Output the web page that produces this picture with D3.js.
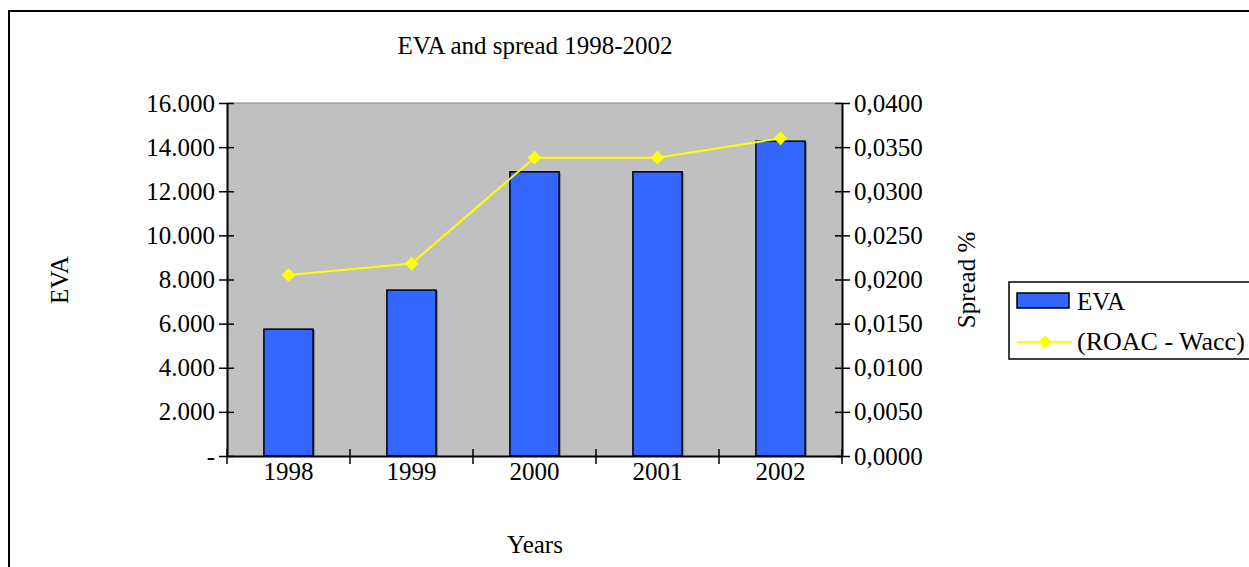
<!DOCTYPE html>
<html>
<head>
<meta charset="utf-8">
<script src="https://d3js.org/d3.v7.min.js"></script>
<style>
  body { margin: 0; background: #fff; }
  svg text { font-family: "Liberation Serif", "Times New Roman", serif !important; fill: #000; }
</style>
</head>
<body>
<svg id="chart" width="1249" height="567"></svg>
<script>
// data
var years = ["1998", "1999", "2000", "2001", "2002"];
var evaValues = [5750, 7520, 12880, 12880, 14270];
var spreadValues = [0.0205, 0.0218, 0.0338, 0.0338, 0.0360];
var leftTicks = [0, 2000, 4000, 6000, 8000, 10000, 12000, 14000, 16000];
var leftTickLabels = ["-", "2.000", "4.000", "6.000", "8.000", "10.000", "12.000", "14.000", "16.000"];
var rightTicks = [0, 0.005, 0.01, 0.015, 0.02, 0.025, 0.03, 0.035, 0.04];
var rightTickLabels = ["0,0000", "0,0050", "0,0100", "0,0150", "0,0200", "0,0250", "0,0300", "0,0350", "0,0400"];

var svg = d3.select("#chart");
var plot = {left: 227, right: 842, top: 103, bottom: 456};
var fs = "25px";

// outer chart frame (cut off on the right and bottom)
svg.append("path")
  .attr("d", "M9,567 V11 H1249")
  .attr("fill", "none")
  .attr("stroke", "#000")
  .attr("stroke-width", 2);

var x = d3.scaleBand().domain(years).range([plot.left, plot.right]);
var yLeft = d3.scaleLinear().domain([0, 16000]).range([plot.bottom, plot.top]);
var yRight = d3.scaleLinear().domain([0, 0.04]).range([plot.bottom, plot.top]);

// plot area
svg.append("rect")
  .attr("x", plot.left).attr("y", plot.top)
  .attr("width", plot.right - plot.left).attr("height", plot.bottom - plot.top)
  .attr("fill", "#c0c0c0");
svg.append("line")
  .attr("x1", plot.left).attr("x2", plot.right)
  .attr("y1", plot.top).attr("y2", plot.top)
  .attr("stroke", "#808080").attr("stroke-width", 1);

// bars
var barW = x.bandwidth() * 0.4;
svg.selectAll(".shadow").data(evaValues).enter().append("rect")
  .attr("x", function (d, i) { return x(years[i]) + (x.bandwidth() - barW) / 2 + 2; })
  .attr("y", function (d) { return yLeft(d) + 1; })
  .attr("width", barW)
  .attr("height", function (d) { return plot.bottom - yLeft(d) - 1; })
  .attr("fill", "#8a8a8a");
svg.selectAll(".bar").data(evaValues).enter().append("rect")
  .attr("x", function (d, i) { return x(years[i]) + (x.bandwidth() - barW) / 2; })
  .attr("y", function (d) { return yLeft(d); })
  .attr("width", barW)
  .attr("height", function (d) { return plot.bottom - yLeft(d); })
  .attr("fill", "#3366ff")
  .attr("stroke", "#000")
  .attr("stroke-width", 1.5);

// spread line
var line = d3.line()
  .x(function (d, i) { return x(years[i]) + x.bandwidth() / 2; })
  .y(function (d) { return yRight(d); });
svg.append("path").datum(spreadValues)
  .attr("d", line)
  .attr("fill", "none")
  .attr("stroke", "#ffff00")
  .attr("stroke-width", 2);
var diamond = d3.symbol().type(d3.symbolDiamond2).size(120);
svg.selectAll(".pt").data(spreadValues).enter().append("path")
  .attr("d", diamond)
  .attr("transform", function (d, i) { return "translate(" + (x(years[i]) + x.bandwidth() / 2) + "," + yRight(d) + ")"; })
  .attr("fill", "#ffff00");

// axes
var leftAxis = d3.axisLeft(yLeft).tickValues(leftTicks)
  .tickFormat(function (d, i) { return leftTickLabels[i]; })
  .tickSizeInner(8).tickSizeOuter(0).tickPadding(4);
var gl = svg.append("g").attr("transform", "translate(" + plot.left + ",0)").call(leftAxis);

var rightAxis = d3.axisRight(yRight).tickValues(rightTicks)
  .tickFormat(function (d, i) { return rightTickLabels[i]; })
  .tickSizeInner(8).tickSizeOuter(0).tickPadding(4);
var gr = svg.append("g").attr("transform", "translate(" + plot.right + ",0)").call(rightAxis);

var bottomAxis = d3.axisBottom(x).tickSizeInner(0).tickSizeOuter(0).tickPadding(4);
var gb = svg.append("g").attr("transform", "translate(0," + plot.bottom + ")").call(bottomAxis);

[gl, gr, gb].forEach(function (g) {
  g.attr("font-size", fs).attr("font-family", "Liberation Serif");
  g.selectAll("text").style("font-size", fs);
  g.selectAll(".domain").attr("stroke", "#000").attr("stroke-width", 2);
  g.selectAll(".tick line").attr("stroke", "#000").attr("stroke-width", 1.5);
});
gb.selectAll(".tick text").attr("y", 6).attr("dy", "0.71em");
// ticks crossing the vertical axes
gl.selectAll(".tick line").attr("x1", 7);
gr.selectAll(".tick line").attr("x1", -7);

// category boundary ticks on the x axis
var bounds = years.map(function (d) { return x(d); }).concat([plot.right]);
gb.selectAll(".bound").data(bounds).enter().append("line")
  .attr("x1", function (d) { return d; }).attr("x2", function (d) { return d; })
  .attr("y1", -7).attr("y2", 8)
  .attr("stroke", "#000").attr("stroke-width", 1.5);

// titles
svg.append("text").attr("x", 535).attr("y", 54).attr("text-anchor", "middle")
  .style("font-size", fs).text("EVA and spread 1998-2002");
svg.append("text").attr("x", 535).attr("y", 553).attr("text-anchor", "middle")
  .style("font-size", fs).text("Years");
svg.append("text").attr("transform", "translate(68,280) rotate(-90)").attr("text-anchor", "middle")
  .style("font-size", fs).text("EVA");
svg.append("text").attr("transform", "translate(975,280) rotate(-90)").attr("text-anchor", "middle")
  .style("font-size", fs).text("Spread %");

// legend
var lg = svg.append("g");
lg.append("rect").attr("x", 1009).attr("y", 282).attr("width", 260).attr("height", 77)
  .attr("fill", "#fff").attr("stroke", "#000").attr("stroke-width", 1.5);
lg.append("rect").attr("x", 1017).attr("y", 293).attr("width", 52).attr("height", 15)
  .attr("fill", "#3366ff").attr("stroke", "#000").attr("stroke-width", 1.5);
lg.append("text").attr("x", 1077).attr("y", 310).style("font-size", fs).text("EVA");
lg.append("line").attr("x1", 1017).attr("x2", 1072).attr("y1", 342).attr("y2", 342)
  .attr("stroke", "#ffff00").attr("stroke-width", 2);
lg.append("path").attr("d", diamond).attr("transform", "translate(1045,342)").attr("fill", "#ffff00");
lg.append("text").attr("x", 1077).attr("y", 350).style("font-size", "26px").text("(ROAC - Wacc)");
</script>
</body>
</html>
